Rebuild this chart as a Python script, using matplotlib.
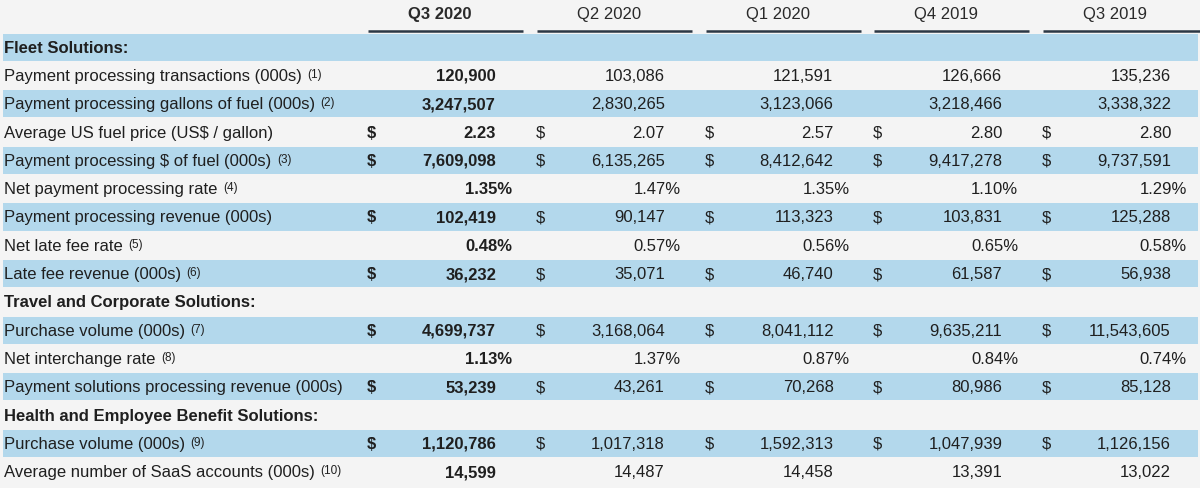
import matplotlib
matplotlib.use("Agg")
import matplotlib.pyplot as plt

quarters = ['Q3 2020', 'Q2 2020', 'Q1 2020', 'Q4 2019', 'Q3 2019']

row_labels = [
    'Fleet Solutions:',
    'Payment processing transactions (000s)',
    'Payment processing gallons of fuel (000s)',
    'Average US fuel price (US$ / gallon)',
    'Payment processing $ of fuel (000s)',
    'Net payment processing rate',
    'Payment processing revenue (000s)',
    'Net late fee rate',
    'Late fee revenue (000s)',
    'Travel and Corporate Solutions:',
    'Purchase volume (000s)',
    'Net interchange rate',
    'Payment solutions processing revenue (000s)',
    'Health and Employee Benefit Solutions:',
    'Purchase volume (000s)',
    'Average number of SaaS accounts (000s)',
]
footnotes = ['', '(1)', '(2)', '', '(3)', '(4)', '', '(5)', '(6)',
             '', '(7)', '(8)', '', '', '(9)', '(10)']
# 'section' = heading row, 'int' = whole number, 'price' = 2 decimals, 'pct' = percent
row_kinds = ['section', 'int', 'int', 'price', 'int', 'pct', 'int', 'pct', 'int',
             'section', 'int', 'pct', 'int', 'section', 'int', 'int']
has_dollar = [False, False, False, True, True, False, True, False, True,
              False, True, False, True, False, True, False]

values = [
    None,
    [120900, 103086, 121591, 126666, 135236],
    [3247507, 2830265, 3123066, 3218466, 3338322],
    [2.23, 2.07, 2.57, 2.80, 2.80],
    [7609098, 6135265, 8412642, 9417278, 9737591],
    [1.35, 1.47, 1.35, 1.10, 1.29],
    [102419, 90147, 113323, 103831, 125288],
    [0.48, 0.57, 0.56, 0.65, 0.58],
    [36232, 35071, 46740, 61587, 56938],
    None,
    [4699737, 3168064, 8041112, 9635211, 11543605],
    [1.13, 1.37, 0.87, 0.84, 0.74],
    [53239, 43261, 70268, 80986, 85128],
    None,
    [1120786, 1017318, 1592313, 1047939, 1126156],
    [14599, 14487, 14458, 13391, 13022],
]

# layout (pixel coordinates)
W, H = 1200, 489
top = 34
row_h = 28.3
col_step = 168.75
dollar_x0 = 367
value_x0 = 496
pct_shift = 16
head_x0 = 440
line_x0, line_w = 368, 155

bg = '#f4f4f4'
band = '#b3d8ec'
ink = '#1f1f1f'
fs = 12
font = ['Liberation Sans', 'DejaVu Sans']

fig = plt.figure(figsize=(W / 100, H / 100), dpi=100, facecolor=bg)
ax = fig.add_axes([0, 0, 1, 1])
ax.set_xlim(0, W)
ax.set_ylim(H, 0)
ax.axis('off')
ax.set_facecolor(bg)

# column headers with underline
for i, q in enumerate(quarters):
    bold = 'bold' if i == 0 else 'normal'
    ax.text(head_x0 + i * col_step, 15, q, ha='center', va='center',
            fontsize=fs, fontweight=bold, color='#2a2a2a', family=font)
    x1 = line_x0 + i * col_step
    x2 = W if i == len(quarters) - 1 else x1 + line_w
    ax.plot([x1, x2], [32, 32], color='#2c3744', lw=1.8, solid_capstyle='butt')

# rows
for r, label in enumerate(row_labels):
    y0 = top + r * row_h
    yc = y0 + row_h / 2
    if r % 2 == 0:
        ax.add_patch(plt.Rectangle((3, y0 + 0.5), W - 5, row_h - 1,
                                   facecolor=band, edgecolor='none', zorder=0))
    kind = row_kinds[r]
    lw = 'bold' if kind == 'section' else 'normal'
    t = ax.text(4, yc, label, ha='left', va='center', fontsize=fs,
                fontweight=lw, color=ink, family=font)
    if footnotes[r]:
        ax.annotate(footnotes[r], xy=(1, 1.0), xycoords=t,
                    xytext=(4, 0), textcoords='offset points',
                    ha='left', va='top', fontsize=8.5, color=ink, family=font)
    if kind == 'section':
        continue
    for i, v in enumerate(values[r]):
        weight = 'bold' if i == 0 else 'normal'
        xr = value_x0 + i * col_step
        if has_dollar[r]:
            ax.text(dollar_x0 + i * col_step, yc, '$', ha='left', va='center',
                    fontsize=fs, fontweight=weight, color=ink, family=font)
        if kind == 'int':
            s = f'{v:,.0f}'
        elif kind == 'pct':
            s = f'{v:.2f}%'
            xr += pct_shift
        else:
            s = f'{v:.2f}'
        ax.text(xr, yc, s, ha='right', va='center', fontsize=fs,
                fontweight=weight, color=ink, family=font)

fig.savefig('out.png', dpi=100, facecolor=bg)
